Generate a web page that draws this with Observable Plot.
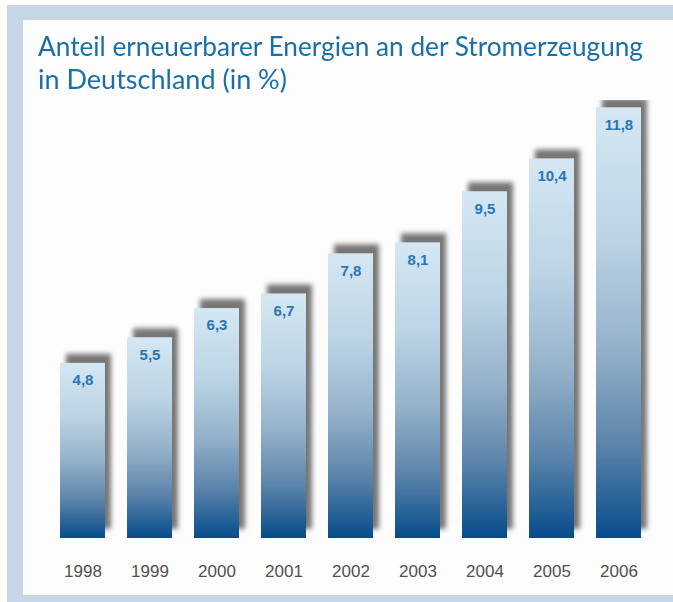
<!DOCTYPE html>
<html>
<head>
<meta charset="utf-8">
<script src="https://cdn.jsdelivr.net/npm/d3@7"></script>
<script src="https://cdn.jsdelivr.net/npm/@observablehq/plot@0.6"></script>
<style>
  html, body { margin: 0; padding: 0; background: #ffffff; width: 673px; height: 602px; overflow: hidden; }
  #frame { position: absolute; left: 7px; top: 5px; width: 720px; height: 597px; background: #c6d6e6; }
  #panel { position: absolute; left: 23px; top: 20px; width: 700px; height: 575px; background: #fdfdfd; }
  #title { position: absolute; left: 38px; top: 29px; color: #1a6fa8; font-family: Lato, "Open Sans", sans-serif;
           font-size: 27px; line-height: 33px; white-space: nowrap; }
  #title div { height: 33px; }
  #title span { display: inline-block; transform-origin: 0 0; line-height: 33px; }
  #chart { position: absolute; left: 0; top: 100px; }
</style>
</head>
<body>
<div id="frame"></div>
<div id="panel"></div>
<div id="title"><div><span id="t1">Anteil erneuerbarer Energien an der Stromerzeugung</span></div><div><span id="t2">in Deutschland (in %)</span></div></div>
<div id="chart"></div>
<script>
const years = ["1998", "1999", "2000", "2001", "2002", "2003", "2004", "2005", "2006"];
const shares = [4.8, 5.5, 6.3, 6.7, 7.8, 8.1, 9.5, 10.4, 11.8];
const labels = ["4,8", "5,5", "6,3", "6,7", "7,8", "8,1", "9,5", "10,4", "11,8"];

const data = years.map((y, i) => ({year: y, value: shares[i], label: labels[i]}));

const plot = Plot.plot({
  width: 673,
  height: 495,
  marginLeft: 45.6,
  marginRight: 18.6,
  marginTop: 0,
  marginBottom: 57,
  style: {background: "transparent", fontFamily: "'Liberation Sans', Arial, sans-serif"},
  x: {domain: years, paddingInner: 0.33, paddingOuter: 0.2, label: null},
  y: {domain: [0, 12], axis: null},
  marks: [
    Plot.barY(data, {x: "year", y: "value", fill: "#767676", dx: 6, dy: -9}),
    Plot.barY(data, {x: "year", y: "value", fill: "url(#barGrad)"}),
    Plot.text(data, {x: "year", y: "value", text: "label", dy: 17, fill: "#2876b4",
                     fontSize: 15, fontWeight: "bold"}),
    Plot.axisX({tickSize: 0, tickPadding: 26, fontSize: 17, color: "#505050", label: null})
  ]
});

const svg = d3.select(plot);
const defs = svg.insert("defs", ":first-child");
const grad = defs.append("linearGradient").attr("id", "barGrad")
  .attr("x1", 0).attr("y1", 0).attr("x2", 0).attr("y2", 1);
[[0, "#d5e7f3"], [0.3, "#bcd4e5"], [0.55, "#96b3cb"], [0.78, "#5d85ab"], [1, "#064c8b"]]
  .forEach(([o, c]) => grad.append("stop").attr("offset", o).attr("stop-color", c));
const f = defs.append("filter").attr("id", "shadowBlur")
  .attr("x", "-30%").attr("y", "-10%").attr("width", "160%").attr("height", "120%");
f.append("feGaussianBlur").attr("stdDeviation", 2.5);
svg.select("g[aria-label='bar']").attr("filter", "url(#shadowBlur)");

document.getElementById("chart").appendChild(plot);

// condense the title lines to the reference's widths
const t1 = document.getElementById("t1"), t2 = document.getElementById("t2");
t1.style.transform = `scaleX(${605 / t1.getBoundingClientRect().width})`;
t2.style.transform = `scaleX(${249 / t2.getBoundingClientRect().width})`;
</script>
</body>
</html>
